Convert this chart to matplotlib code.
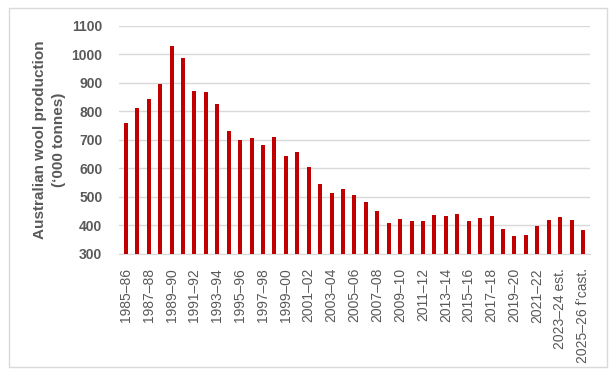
import matplotlib
matplotlib.use("Agg")
import matplotlib.pyplot as plt
from matplotlib.patches import Rectangle

plt.rcParams['font.family'] = ['Liberation Sans', 'DejaVu Sans']

# financial years, 1985-86 to 2025-26
years = [f"{y}–{str(y + 1)[-2:]}" for y in range(1985, 2026)]
years[38] = "2023–24 est."
years[40] = "2025–26 f’cast."

# wool production ('000 tonnes)
production = [760, 812, 844, 896, 1030, 988, 872, 868, 826, 732,
              700, 707, 682, 710, 644, 658, 605, 546, 514, 528,
              507, 482, 451, 409, 423, 416, 416, 437, 433, 440,
              416, 426, 433, 388, 363, 367, 398, 419, 430, 419,
              384]

bar_color = "#c00000"
text_color = "#595959"
grid_color = "#d9d9d9"

fig = plt.figure(figsize=(6.15, 3.75), dpi=100)
ax = fig.add_axes([0.1935, 0.3227, 0.7655, 0.608])

x = list(range(len(years)))
ax.bar(x, [p - 300 for p in production], bottom=300, width=0.35,
       color=bar_color, zorder=3)

ax.set_ylim(300, 1100)
ax.set_yticks(range(300, 1101, 100))
ax.set_xlim(-0.6, len(years) - 0.4)
ax.set_xticks(x[::2])
ax.set_xticklabels(years[::2], rotation=90, va="top", ha="center",
                   fontsize=10, color=text_color)
ax.tick_params(axis="x", length=0, pad=10)
ax.tick_params(axis="y", length=0, pad=12, labelsize=10, labelcolor=text_color)
for lbl in ax.get_yticklabels():
    lbl.set_fontweight("bold")

ax.grid(axis="y", color=grid_color, linewidth=1, zorder=0)
for side in ["top", "right", "left"]:
    ax.spines[side].set_visible(False)
ax.spines["bottom"].set_color(grid_color)

ax.set_ylabel("Australian wool production\n(‘000 tonnes)", fontsize=11,
              fontweight="bold", color=text_color, labelpad=4,
              linespacing=1.4)

# light border around the whole chart
fig.patches.append(Rectangle((9 / 615, 8 / 375), 598 / 615, 359 / 375,
                             transform=fig.transFigure, fill=False,
                             edgecolor=grid_color, linewidth=1))

fig.savefig("out.png", dpi=100)
